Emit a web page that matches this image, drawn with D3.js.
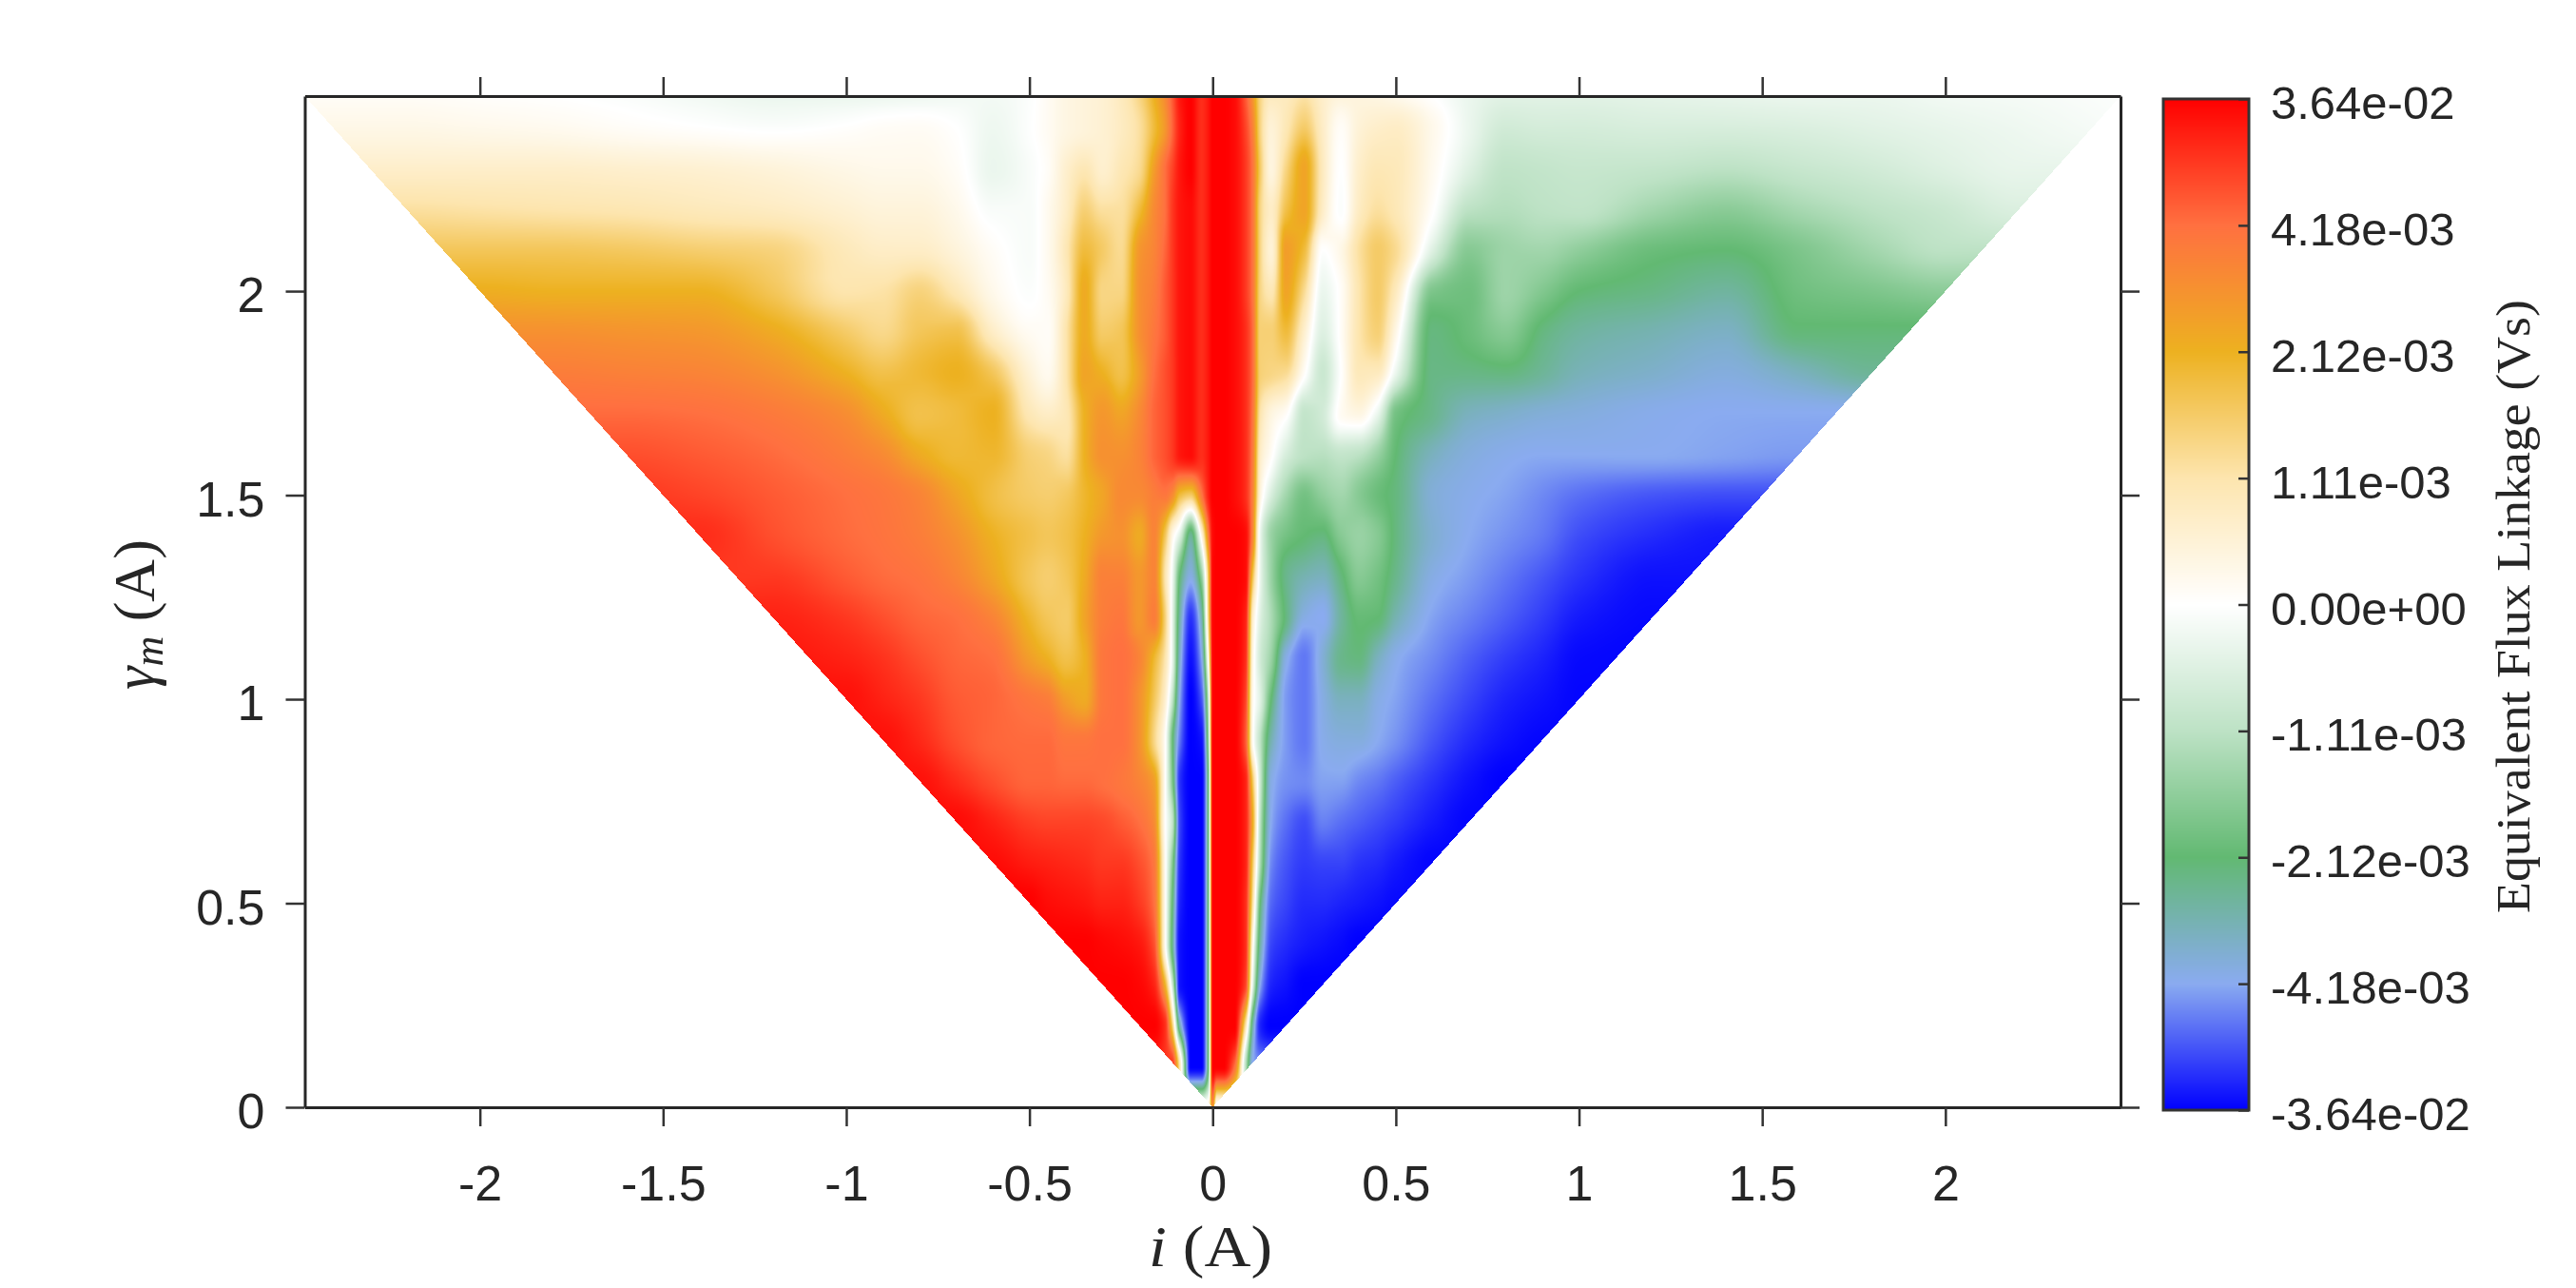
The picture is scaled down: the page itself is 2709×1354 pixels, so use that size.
<!DOCTYPE html>
<html>
<head>
<meta charset="utf-8">
<script src="https://cdn.jsdelivr.net/npm/d3@7"></script>
<style>
html,body{margin:0;padding:0;background:#fff;overflow:hidden}
#wrap{position:relative;width:2709px;height:1354px}
canvas,svg{position:absolute;left:0;top:0}
text{fill:#262626}
</style>
</head>
<body>
<div id="wrap"><canvas id="map" width="2709" height="1354"></canvas><svg id="chart" width="2709" height="1354"></svg></div>
<script>
// ---- data -----------------------------------------------------------------
const xTicks = [-2,-1.5,-1,-0.5,0,0.5,1,1.5,2];
const yTicks = [0,0.5,1,1.5,2];
const colorLevels = [-4,-3,-2,-1,0,1,2,3,4];
const colorLabels = ["-3.64e-02","-4.18e-03","-2.12e-03","-1.11e-03","0.00e+00","1.11e-03","2.12e-03","4.18e-03","3.64e-02"];
const colorStops = ["#0000ff","#8aabf0","#62b972","#bde2c5","#ffffff","#fde5ae","#edb120","#ff7040","#ff0000"];
const gammaRows = [0,0.1,0.2,0.3,0.4,0.5,0.6,0.7,0.8,0.9,1,1.1,1.2,1.3,1.4,1.5,1.6,1.7,1.8,1.9,2,2.1,2.2,2.3,2.4,2.478];
const iOffsets = [0,0.012,0.03,0.06,0.09,0.11,0.13,0.16,0.2,0.25,0.3,0.35,0.4,0.45,0.5,0.6,0.7,0.8,0.9,1,1.2,1.4,1.6,1.8,2,2.2,2.478];
// Flux read as position on the colour bar (-4...4), one row per gamma, from i=0 outward.
const fluxLeft = [
[2.5,.5],
[4,-2,-4,-4,1,3.5],
[4,-2,-4,-4,-2.5,1.5,3.6,4,4],
[4,-2,-4,-4,-3.9,-.7,2,3.7,3.95,4,4],
[4,-2,-4,-4,-3.9,-2.2,.2,3.3,3.8,3.9,3.95,4,4],
[4,-2,-4,-4,-3.8,-2,.2,3,3.5,3.7,3.7,3.8,3.85,3.9,4],
[4,-2,-4,-4,-3.7,-1.6,.2,2.9,3.3,3.5,3.5,3.6,3.65,3.7,3.75,3.9],
[4,-2,-4,-4,-3.6,-.9,.1,2.6,3,3.2,3.35,3.4,3.4,3.4,3.45,3.7,3.9],
[4,-2,-4,-4,-3.7,-1.7,.1,2.3,2.7,2.9,3,3.05,3.05,3.1,3.1,3.3,3.6,3.85],
[4,-1.5,-3.9,-4,-3.3,-1.9,.1,1.3,2.5,3,3,2.9,2.9,3.05,3.05,3.1,3.3,3.65,3.85],
[3.9,-1,-3.5,-4,-3,-.9,.6,1.6,2.5,3,2.9,2.1,2.3,2.8,2.9,3.1,3.2,3.5,3.7,3.85],
[3.9,.2,-3,-3.9,-2.7,-.3,1,1.9,2.7,3,2.9,2,1.7,2,2.3,3,3.1,3.3,3.55,3.7,3.8],
[3.9,1.2,-2.5,-3.7,-2.4,-.3,1.4,2.8,2.4,2.9,2.8,2.2,1.5,1.6,1.9,2.7,3,3.1,3.3,3.5,3.7],
[3.9,1.5,-1.5,-2.9,-2,-.2,1,2.7,2.4,2.75,2.75,2.1,1.6,1.45,1.6,2.2,2.7,2.95,3.05,3.2,3.5],
[3.8,2.7,.3,-2.3,-.5,.3,1.6,2.7,2.1,2.5,2.4,2,1.7,1.6,1.7,2,2.5,2.8,2.95,3.05,3.3,3.6],
[4,3.7,2.9,1.5,1.8,2.6,2.9,2.8,2.6,2.6,2.2,1.9,1.55,1.45,1.5,1.75,2.2,2.7,2.9,3,3.2,3.4,3.5],
[4,3.8,3.6,3.9,3.8,3.5,3.3,3.1,2.7,2.5,2.5,2,1.1,1.3,1.4,1.9,1.85,2.1,2.6,2.8,3.05,3.2,3.3],
[4,3.8,3.6,3.9,3.8,3.5,3.3,3.1,2.6,2.2,2.4,2,.9,.7,.9,2,1.8,1.7,2.1,2.55,2.85,3,3.05],
[4,3.8,3.6,3.9,3.8,3.5,3.3,3,2.3,1.7,2,2.2,1,.2,.5,1.6,2,1.85,1.7,2,2.5,2.7,2.75,2.8],
[4,3.8,3.6,3.9,3.8,3.5,3.2,2.9,2.5,1.6,1.5,2.1,1,.1,.15,.7,1.7,1.6,1.25,1.5,2.1,2.4,2.45,2.5,2.5],
[4,3.8,3.6,3.9,3.8,3.5,3.2,2.8,2.5,1.3,1.3,2.1,.8,.15,-.05,.25,.9,1.35,1.05,1,1.6,2,2,2,2.05],
[4,3.8,3.6,3.9,3.8,3.5,3.1,2.7,2.4,1.2,1.5,1.8,.9,.2,-.1,.1,.45,.7,.7,.85,1.35,1.45,1.55,1.6,1.6,1.6],
[4,3.8,3.6,3.9,3.8,3.5,3,2.6,1.8,1.1,1.1,1.4,.7,.2,-.1,-.1,.25,.45,.45,.55,.75,.85,.95,1,1.05,1.1],
[4,3.8,3.6,4,3.8,3.4,3,2.3,1.2,.9,.6,.9,.6,.1,-.1,-.3,.1,.25,.25,.3,.45,.55,.6,.65,.65,.65],
[4,3.8,3.6,4,3.7,3.1,2.4,1.8,1.1,.75,.55,.45,.35,.15,-.03,-.25,0,.12,.1,.03,-.05,.02,.1,.2,.25,.3,.3],
[4,3.8,3.6,4,3.8,3.2,2.6,2,1.3,.8,.55,.45,.35,.15,-.05,-.18,-.2,-.25,-.28,-.3,-.3,-.2,-.08,0,.05,.1,.1]
];
const fluxRight = [
[2.5,-.5],
[4,4,4,3,-1,-3],
[4,4,4,4,1,-2.5,-3.8,-4],
[4,4,4,4,3.4,-.5,-3,-3.8,-3.9,-4,-4],
[4,4,4,4,3.6,.2,-2.4,-3.6,-3.75,-3.85,-3.9,-3.95,-4],
[4,4,4,4,3.6,1,-2,-3.4,-3.6,-3.75,-3.75,-3.8,-3.85,-3.9,-3.95],
[4,4,4,4,3.7,1.5,-1.2,-3.2,-3.5,-3.65,-3.6,-3.6,-3.7,-3.75,-3.85,-3.97],
[4,4,4,4,3.7,2,-1,-3,-3.35,-3.55,-3.25,-3.35,-3.45,-3.55,-3.65,-3.85,-3.97],
[4,4,4,4,3.7,1.5,-.8,-2.9,-3.15,-3.2,-3.05,-3.05,-3.2,-3.3,-3.45,-3.7,-3.9,-4],
[4,4,4,4,3.2,.1,-1,-2.5,-3.1,-3.3,-2.95,-2.85,-2.85,-3,-3.15,-3.5,-3.75,-3.9,-3.97],
[4,4,4,4,3.4,.2,-.5,-2,-3.1,-3.3,-2.9,-2.6,-2.6,-2.9,-3.05,-3.35,-3.6,-3.8,-3.9,-3.97],
[4,4,4,4,3.6,.3,-.7,-1.4,-2.9,-3.3,-2.8,-2.2,-2.1,-2.6,-2.95,-3.2,-3.45,-3.65,-3.8,-3.95,-3.97],
[4,4,4,4,3.7,.6,-.5,-1.2,-2.1,-2.9,-3,-2.35,-1.95,-2,-2.5,-3.05,-3.25,-3.45,-3.65,-3.85,-3.95],
[4,4,4,4,3.9,1.6,-.3,-1.4,-2.2,-2.5,-2.6,-2.1,-1.6,-1.8,-2.2,-2.9,-3.1,-3.3,-3.5,-3.7,-3.9],
[4,4,4,4,3.9,2.6,-.3,-1.4,-1.8,-2,-2.1,-1.6,-1.4,-1.6,-2.1,-2.75,-3,-3.15,-3.3,-3.55,-3.75,-3.85],
[4,4,4,3.9,3.6,2.7,.4,-.6,-1.3,-1.8,-1.5,-1.3,-1.6,-1.9,-2.1,-2.8,-2.95,-3.05,-3.2,-3.35,-3.5,-3.55,-3.55],
[4,4,4,3.9,3.6,2.8,.7,.1,-.6,-1,-1.05,-.9,-1,-1.4,-2,-2.6,-2.85,-2.95,-3,-3,-3,-3.05,-3.1],
[4,4,4,3.9,3.6,2.9,1,.4,.1,-.9,-.7,.15,.35,-.3,-1.8,-2.2,-2.6,-2.7,-2.8,-2.85,-2.95,-3,-3,-3],
[4,4,4,3.9,3.6,3,1.4,1.3,1.2,.1,-.8,0,.85,.8,-.3,-2.15,-2.15,-2.1,-2.3,-2.55,-2.7,-2.85,-2.6,-2.3],
[4,4,4,3.9,3.6,3,1.4,1.4,1.8,.6,-.5,.1,1,1.4,.3,-2.1,-1.9,-1.6,-2.1,-2.35,-2.5,-2.65,-2.05,-2.05],
[4,4,4,3.9,3.5,2.9,1.3,.9,2.2,1.2,-.3,.1,1,1.5,.8,-1.7,-1.85,-1.35,-1.65,-2,-2.15,-2.35,-1.85,-1.7,-1.55],
[4,4,4,3.9,3.5,2.9,1.3,.5,2.3,1.8,0,.3,1.1,1.5,1.2,-.5,-1.6,-1.35,-1.3,-1.5,-1.9,-2,-1.7,-1.3,-1],
[4,4,4,3.9,3.5,2.9,1.3,.7,1.7,2.2,.7,-.05,.75,1.1,.9,.05,-1,-1.1,-1,-.95,-1.3,-1.55,-1.25,-1,-.8,-.55],
[4,4,4,3.9,3.5,2.9,1.5,.4,1.3,2.2,.8,0,.65,.9,.85,.2,-.5,-.95,-.9,-.85,-.9,-1,-.85,-.7,-.5,-.35],
[4,4,4,3.9,3.4,2.7,1.3,.5,.9,1.5,.7,.1,.5,.65,.7,.25,-.3,-.7,-.65,-.65,-.6,-.6,-.55,-.45,-.35,-.25,-.1],
[4,4,4,3.9,3.2,2.4,1.3,.8,.8,1.05,.65,.45,.4,.35,.25,0,-.3,-.45,-.45,-.45,-.4,-.35,-.3,-.3,-.2,-.15,-.05]
];

// ---- scales ---------------------------------------------------------------
const xLim = 2.478;
const x = d3.scaleLinear([-xLim,xLim],[320.5,2230]);
const y = d3.scaleLinear([0,xLim],[1164,101]);
const cbY = d3.scaleLinear([-4,4],[1167,104]);
const color = d3.scaleLinear().domain(colorLevels).range(colorStops).clamp(true);

// monotone (Fritsch-Carlson style) cubic through the read values
function monotone(xs, ys){
  const n=xs.length, h=[], s=[], m=new Array(n);
  for(let k=0;k<n-1;k++){h[k]=xs[k+1]-xs[k]; s[k]=(ys[k+1]-ys[k])/h[k];}
  m[0]=s[0]; m[n-1]=s[n-2];
  for(let k=1;k<n-1;k++){
    if(s[k-1]*s[k]<=0) m[k]=0;
    else { const w1=2*h[k]+h[k-1], w2=h[k]+2*h[k-1]; m[k]=(w1+w2)/(w1/s[k-1]+w2/s[k]); }
  }
  return function(v){
    let lo=0, hi=n-1;
    while(hi-lo>1){const c=(lo+hi)>>1; if(xs[c]<=v) lo=c; else hi=c;}
    const t=(v-xs[lo])/h[lo], t2=t*t, t3=t2*t;
    return (2*t3-3*t2+1)*ys[lo]+(t3-2*t2+t)*h[lo]*m[lo]+(-2*t3+3*t2)*ys[hi]+(t3-t2)*h[lo]*m[hi];
  };
}

// Assemble the full grid from the two half tables
const pad = r => iOffsets.map((_,k)=> k<r.length ? r[k] : r[r.length-1]);
const iCols = [...iOffsets.slice(1).map(d=>-d).reverse(), ...iOffsets];
const grid = gammaRows.map((_,r)=>{
  const L=pad(fluxLeft[r]), R=pad(fluxRight[r]);
  return [...L.slice(1).reverse(), (L[0]+R[0])/2, ...R.slice(1)];
});
const columnFns = iCols.map((_,c)=>monotone(gammaRows, grid.map(row=>row[c])));

// ---- heat map -------------------------------------------------------------
const LUT=2048;
const lut=d3.range(LUT+1).map(k=>{const c=d3.rgb(color(-4+8*k/LUT)); return [c.r,c.g,c.b];});
const ctx=document.getElementById("map").getContext("2d");
const [px0,px1]=[Math.ceil(x.range()[0]),Math.floor(x.range()[1])];
const [py0,py1]=[Math.ceil(y.range()[1]),Math.floor(y.range()[0])];
const img=ctx.createImageData(px1-px0+1,py1-py0+1);
for(let py=py0;py<=py1;py++){
  const g=y.invert(py+0.5);
  if(g<0) continue;
  const rowVals=columnFns.map(f=>f(Math.min(g,xLim)));
  const across=monotone(iCols,rowVals);
  for(let px=px0;px<=px1;px++){
    const i=x.invert(px+0.5);
    if(Math.abs(i)>g) continue;
    const v=Math.max(-4,Math.min(4,across(i)));
    const c=lut[Math.round((v+4)/8*LUT)];
    const o=((py-py0)*img.width+(px-px0))*4;
    img.data[o]=c[0];img.data[o+1]=c[1];img.data[o+2]=c[2];img.data[o+3]=255;
  }
}
ctx.putImageData(img,px0,py0);

// ---- axes -----------------------------------------------------------------
const svg=d3.select("#chart");
const ink="#262626", tickFont='"Liberation Sans",Arial,sans-serif', mathFont='"Liberation Serif","Times New Roman",serif';
function style(g,size){
  g.selectAll(".domain").attr("stroke",ink).attr("stroke-width",3);
  g.selectAll(".tick line").attr("stroke","#333").attr("stroke-width",2.5);
  g.selectAll("text").attr("font-family",tickFont).attr("font-size",size).attr("fill",ink);
}
const fmt=d=>String(d);
svg.append("g").attr("transform",`translate(0,${y(0)})`)
  .call(d3.axisBottom(x).tickValues(xTicks).tickFormat(fmt).tickSize(20).tickSizeOuter(0).tickPadding(41))
  .call(g=>style(g,52));
svg.append("g").attr("transform",`translate(0,${y(xLim)})`)
  .call(d3.axisTop(x).tickValues(xTicks).tickFormat("").tickSize(20).tickSizeOuter(0))
  .call(g=>style(g,52));
svg.append("g").attr("transform",`translate(${x(-xLim)},0)`)
  .call(d3.axisLeft(y).tickValues(yTicks).tickFormat(fmt).tickSize(20).tickSizeOuter(0).tickPadding(22))
  .call(g=>{style(g,52); g.selectAll("text").attr("dy","0.42em");});
svg.append("g").attr("transform",`translate(${x(xLim)},0)`)
  .call(d3.axisRight(y).tickValues(yTicks).tickFormat("").tickSize(20).tickSizeOuter(0))
  .call(g=>style(g,52));

// x label
svg.append("text").attr("x",1208).attr("y",1331).attr("font-family",mathFont).attr("font-size",62)
  .attr("textLength",130).attr("lengthAdjust","spacingAndGlyphs")
  .call(t=>{t.append("tspan").attr("font-style","italic").text("i"); t.append("tspan").text("\u00a0(A)");});
// y label
svg.append("text").attr("transform","translate(162,725) rotate(-90)").attr("font-family",mathFont).attr("font-size",62)
  .call(t=>{
    t.append("tspan").attr("font-style","italic").text("\u03b3");
    t.append("tspan").attr("font-style","italic").attr("font-size",44).attr("dy",9).text("m");
    t.append("tspan").attr("dy",-9).text("\u00a0(A)");
  });

// ---- colour bar -----------------------------------------------------------
const barX0=2275, barX1=2365;
const bar=svg.append("g");
bar.selectAll("rect").data(d3.range(cbY.range()[1],cbY.range()[0])).join("rect")
  .attr("x",barX0).attr("width",barX1-barX0).attr("y",d=>d).attr("height",1.5)
  .attr("fill",d=>color(cbY.invert(d+0.5)));
bar.append("rect").attr("x",barX0).attr("y",cbY(4)).attr("width",barX1-barX0).attr("height",cbY(-4)-cbY(4))
  .attr("fill","none").attr("stroke","#333").attr("stroke-width",3);
svg.append("g").attr("transform",`translate(${barX1},0)`)
  .call(d3.axisRight(cbY).tickValues(colorLevels).tickFormat((d,k)=>colorLabels[k]).tickSize(-11).tickSizeOuter(0).tickPadding(23))
  .call(g=>{style(g,49); g.select(".domain").remove(); g.selectAll("text").attr("dy","0.42em");});
svg.append("text").attr("transform","translate(2660,960) rotate(-90)").attr("font-family",mathFont).attr("font-size",50)
  .attr("textLength",645).attr("lengthAdjust","spacingAndGlyphs").text("Equivalent Flux Linkage (Vs)");
</script>
</body>
</html>
